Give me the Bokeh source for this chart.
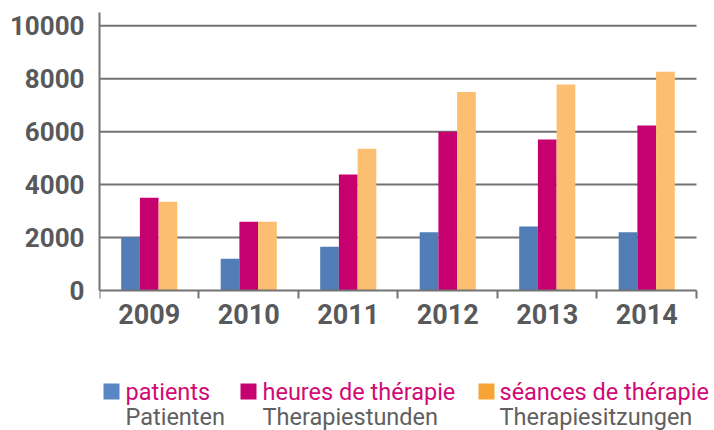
from bokeh.plotting import figure
from bokeh.models import ColumnDataSource, Range1d, FixedTicker, Label, BoxAnnotation
from bokeh.transform import dodge
from bokeh.embed import file_html
from bokeh.resources import INLINE

years = ["2009", "2010", "2011", "2012", "2013", "2014"]
patients = [2000, 1200, 1650, 2200, 2420, 2200]
heures = [3500, 2600, 4380, 6000, 5700, 6230]
seances = [3350, 2600, 5350, 7500, 7780, 8260]
y_ticks = [0, 2000, 4000, 6000, 8000, 10000]

labels_fr = ["patients", "heures de thérapie", "séances de thérapie"]
labels_de = ["Patienten", "Therapiestunden", "Therapiesitzungen"]
bar_colors = ["#527DB7", "#C6006E", "#FCBE70"]
legend_colors = ["#5A86C4", "#C6006E", "#F7A434"]

GRAY = "#58595B"
LINE = "#737373"
FONT = "Roboto"

n = len(years)
src = ColumnDataSource(dict(
    x=[i + 0.5 for i in range(n)],
    patients=patients, heures=heures, seances=seances,
))

W, H = 714, 430
# frame spans the whole area right/below of the y axis; the x axis sits at y=0
p = figure(width=W, height=H, output_backend="svg", toolbar_location=None,
           x_range=Range1d(0, 6.181), y_range=Range1d(-5288, 10500),
           min_border_left=99, min_border_right=0, min_border_top=12,
           min_border_bottom=0)
p.outline_line_color = None
p.background_fill_color = "white"
p.border_fill_color = "white"
p.xgrid.visible = False
p.ygrid.visible = False

# horizontal grid lines over the category span
p.segment(x0=[0] * (len(y_ticks) - 1), x1=[n] * (len(y_ticks) - 1),
          y0=y_ticks[1:], y1=y_ticks[1:], line_color=LINE, line_width=2)

bw = 0.188
for field, off, col in zip(["patients", "heures", "seances"], [-bw, 0, bw], bar_colors):
    p.vbar(x=dodge("x", off, range=p.x_range), top=field, width=bw, source=src,
           fill_color=col, line_color=None)

xa = p.xaxis[0]
xa.fixed_location = 0
xa.bounds = (0, n)
xa.ticker = FixedTicker(ticks=[i + 0.5 for i in range(n)],
                        minor_ticks=list(range(n + 1)))
xa.major_label_overrides = {i + 0.5: y for i, y in enumerate(years)}
xa.major_tick_line_color = None
xa.major_tick_out = 0
xa.major_tick_in = 0
xa.minor_tick_line_color = LINE
xa.minor_tick_line_width = 2
xa.minor_tick_out = 8
xa.minor_tick_in = 0
xa.axis_line_color = LINE
xa.axis_line_width = 2
xa.major_label_text_font = FONT
xa.major_label_text_font_style = "bold"
xa.major_label_text_font_size = "27px"
xa.major_label_text_color = GRAY
xa.major_label_standoff = 6

ya = p.yaxis[0]
ya.bounds = (0, 10500)
ya.ticker = FixedTicker(ticks=y_ticks)
ya.major_tick_line_color = None
ya.major_tick_out = 0
ya.major_tick_in = 0
ya.minor_tick_line_color = None
ya.axis_line_color = LINE
ya.axis_line_width = 2
ya.major_label_text_font = FONT
ya.major_label_text_font_style = "bold"
ya.major_label_text_font_size = "26px"
ya.major_label_text_color = GRAY
ya.major_label_standoff = 15

# legend (screen units relative to the frame's bottom-left corner)
FL = 99
sq_x = [103, 240, 478]
txt_x = [125, 262, 499]
for sx, tx, fr, de, c in zip(sq_x, txt_x, labels_fr, labels_de, legend_colors):
    p.add_layout(BoxAnnotation(left=sx - FL, right=sx - FL + 16,
                               bottom=H - 399, top=H - 383,
                               left_units="screen", right_units="screen",
                               top_units="screen", bottom_units="screen",
                               fill_color=c, fill_alpha=1, line_color=None))
    p.add_layout(Label(x=tx - FL, y=H - 391, x_units="screen", y_units="screen", text=fr,
                       text_font=FONT, text_font_size="23.5px", text_color="#D20A75",
                       text_baseline="alphabetic"))
    p.add_layout(Label(x=tx - FL, y=H - 416, x_units="screen", y_units="screen", text=de,
                       text_font=FONT, text_font_size="23.5px", text_color="#606060",
                       text_baseline="alphabetic"))

open("out.html", "w").write(file_html(p, INLINE))
